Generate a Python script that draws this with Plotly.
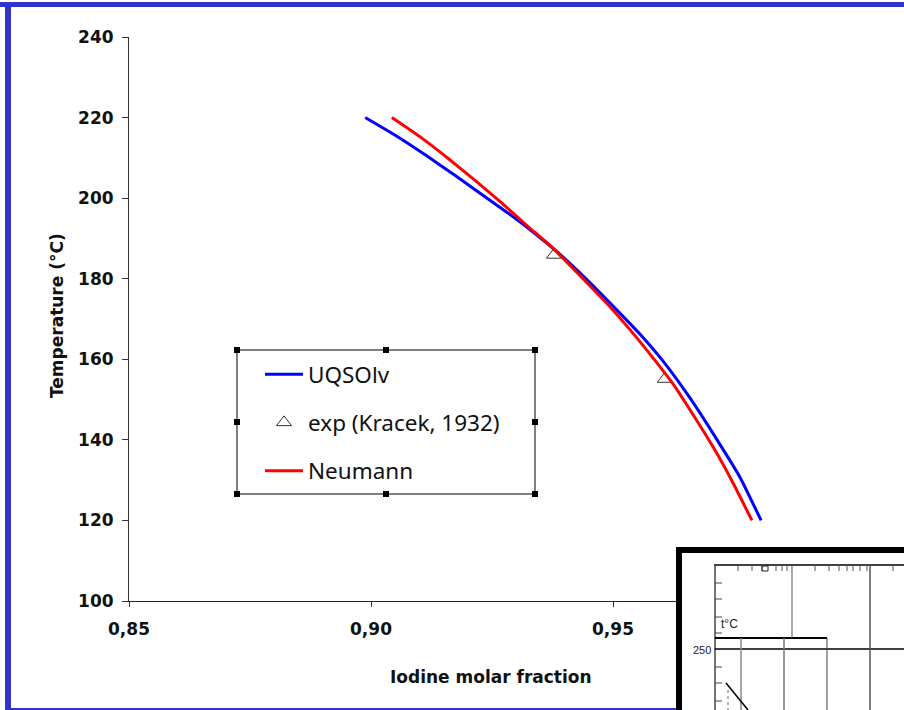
import plotly.graph_objects as go

# ---- data ----
uqsolv_x = [0.8988, 0.9050, 0.9115, 0.9174, 0.9242, 0.9298, 0.9345, 0.9390, 0.9438, 0.9500, 0.9556, 0.9603, 0.9659, 0.9715, 0.9762, 0.9806]
uqsolv_t = [220, 215.6, 210.5, 205.6, 199.8, 195, 190.6, 186.1, 180.7, 173.2, 166.2, 159.6, 150.4, 140, 130.8, 120]
neumann_x = [0.9043, 0.9105, 0.9159, 0.9215, 0.9270, 0.9325, 0.9373, 0.9438, 0.9487, 0.9541, 0.9583, 0.9624, 0.9653, 0.9707, 0.9748, 0.9787]
neumann_t = [220, 214.9, 209.9, 204.4, 198.8, 192.9, 187.9, 180, 173.9, 166.5, 160.3, 153.9, 148.6, 138.2, 129.3, 120]
exp_x = [0.9378, 0.9607]
exp_t = [185.9, 155.1]
x_ticks = [0.85, 0.90, 0.95, 1.00]
y_ticks = [100, 120, 140, 160, 180, 200, 220, 240]

W, H = 904, 710
L, R, T, B = 129, 855, 37, 601
BLUE, RED = "#0000ff", "#ff0000"


def px(x):
    return (x - L) / (R - L)


def py(y):
    return (B - y) / (B - T)


def line(x0, y0, x1, y1, color="black", width=1, dash=None):
    return dict(type="line", xref="paper", yref="paper", x0=px(x0), y0=py(y0), x1=px(x1), y1=py(y1),
                line=dict(color=color, width=width, dash=dash))


def rect(x0, y0, x1, y1, fill="rgba(0,0,0,0)", color="black", width=1):
    return dict(type="rect", xref="paper", yref="paper", x0=px(x0), y0=py(y0), x1=px(x1), y1=py(y1),
                fillcolor=fill, line=dict(color=color, width=width))


def label(text, x, y, font, angle=0):
    return dict(text=text, xref="paper", yref="paper", x=px(x), y=py(y), xanchor="center", yanchor="middle",
                showarrow=False, textangle=angle, font=font)


fig = go.Figure()
fig.add_trace(go.Scatter(x=uqsolv_x, y=uqsolv_t, mode="lines", name="UQSOlv", legendgroup="a",
                         line=dict(color=BLUE, width=3, shape="spline", smoothing=0.5)))
fig.add_trace(go.Scatter(x=exp_x, y=exp_t, mode="markers", name="exp (Kracek, 1932)", legendgroup="b",
                         marker=dict(symbol="triangle-up-open", size=13, color="#333333", line=dict(width=1, color="#333333"))))
fig.add_trace(go.Scatter(x=neumann_x, y=neumann_t, mode="lines", name="Neumann", legendgroup="c",
                         line=dict(color=RED, width=3, shape="spline", smoothing=0.5)))

shapes = []
# legend frame with its selection handles
shapes.append(rect(237, 350, 535, 494, color="#555555", width=1.5))
for hx in (237, 386, 535):
    for hy in (350, 422, 494):
        if hx == 386 and hy == 422:
            continue
        shapes.append(rect(hx - 3, hy - 3, hx + 3, hy + 3, fill="black", color="black", width=0))

# inset scan
shapes.append(rect(679, 550, 912, 720, fill="white", color="black", width=6))
shapes.append(line(714, 565, 904, 565, width=1.5))
shapes.append(line(715, 565, 715, 710, color="#444444", width=1.5))
for ty in (583, 599, 617, 633, 667, 683, 701):
    shapes.append(line(715, ty, 722, ty, color="#444444", width=1))
for tx in (738, 752, 762, 776, 782, 787, 815, 829, 839, 847, 853, 860, 867, 893):
    shapes.append(line(tx, 565, tx, 571, color="#555555", width=1))
shapes.append(rect(762, 566, 768, 571, color="#222222", width=1))
shapes.append(line(715, 638, 827, 638, width=2))
shapes.append(line(715, 649, 904, 649, width=1.5))
shapes.append(line(792, 565, 792, 638, color="#555555", width=1))
shapes.append(line(870, 565, 870, 710, color="#555555", width=1.5))
shapes.append(line(827, 638, 827, 710, color="#444444", width=1))
shapes.append(line(784, 638, 784, 710, color="#777777", width=1.5))
shapes.append(line(741, 638, 741, 710, color="#888888", width=1.5))
shapes.append(line(726, 683, 748, 710, width=1.5))
shapes.append(line(728, 690, 728, 710, color="#666666", width=1, dash="dot"))

# blue frame of the slide
shapes.append(rect(-10, 2, 914, 7, fill="#3333cc", color="#3333cc", width=0))
shapes.append(rect(5, 2, 11, 720, fill="#3333cc", color="#3333cc", width=0))
shapes.append(rect(5, 708, 676, 720, fill="#3333cc", color="#3333cc", width=0))

axis_font = dict(family="DejaVu Sans", size=17, color="#111111", weight="bold")
title_font = dict(family="DejaVu Sans", size=17, color="#111111", weight="bold")
annotations = [
    label("250", 702, 650, dict(family="Liberation Sans", size=11, color="#222222")),
    label("t°C", 729, 624, dict(family="Liberation Sans", size=12, color="#222222")),
    label("Iodine molar fraction", 491, 677, title_font),
    label("Temperature (°C)", 57, 316, title_font, angle=-90),
]

fig.update_layout(
    width=W, height=H, autosize=False,
    margin=dict(l=L, r=W - R, t=T, b=H - B, pad=0),
    paper_bgcolor="white", plot_bgcolor="white",
    separators=", ",
    xaxis=dict(range=[0.85, 1.0], tickvals=x_ticks, tickformat=".2f", ticks="outside", ticklen=5, tickwidth=1,
               tickcolor="#333333", showline=True, linecolor="#222222", linewidth=1, showgrid=False, zeroline=False,
               tickfont=axis_font, ticklabelstandoff=8),
    yaxis=dict(range=[100, 240], tickvals=y_ticks, ticks="outside", ticklen=6, tickwidth=1,
               tickcolor="#333333", showline=True, linecolor="#333333", linewidth=1, showgrid=False, zeroline=False,
               tickfont=axis_font, ticklabelstandoff=5),
    legend=dict(x=px(260), y=py(353), xanchor="left", yanchor="top", bgcolor="rgba(0,0,0,0)", borderwidth=0,
                font=dict(family="Noto Sans", size=22.5, color="#111111"), itemwidth=38, tracegroupgap=16,
                traceorder="grouped"),
    shapes=shapes,
    annotations=annotations,
)
fig.write_html("out.html", post_script="document.body.style.margin='0';", config={"displayModeBar": False})
